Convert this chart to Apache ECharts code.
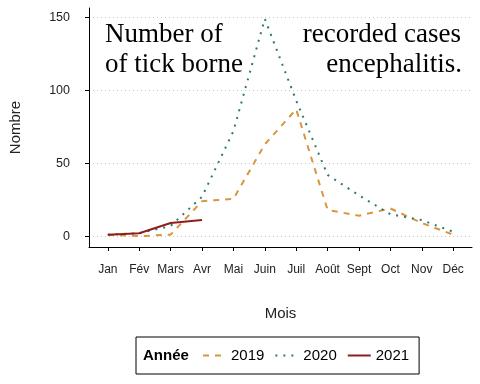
<!DOCTYPE html>
<html><head><meta charset="utf-8">
<script src="https://cdn.jsdelivr.net/npm/echarts@6/dist/echarts.min.js"></script>
<style>html,body{margin:0;padding:0;background:#fff}#c{width:480px;height:384px}</style>
</head><body><div id="c"></div>
<script>
var months = ['Jan','Fév','Mars','Avr','Mai','Juin','Juil','Août','Sept','Oct','Nov','Déc'];
var years = ['2019','2020','2021'];
var cases2019 = [1, 0, 1, 24, 25.5, 63, 87, 18, 14, 19, 9, 1];
var cases2020 = [1, 2, 7, 27, 72, 149, 93, 42, 28, 15, 11, 3];
var cases2021 = [1, 2, 9, 11];
var yTicks = [0, 50, 100, 150];

function pairs(arr){ return arr.map(function(v,i){ return [i, v]; }); }
var chart = echarts.init(document.getElementById('c'), null, {renderer:'canvas'});
var colors = ['#D8963F', '#2E7A6E', '#8E1E1E'];
var monthIdx = months.map(function(m,i){return i;});
chart.setOption({
  animation: false,
  color: colors,
  grid: {left: 89, right: 8, top: 8, bottom: 137},
  xAxis: {
    type: 'value', min: -0.6, max: 11.6,
    name: 'Mois', nameLocation: 'middle', nameGap: 59,
    nameTextStyle: {fontFamily: 'Liberation Sans', fontSize: 15, color: '#222'},
    axisLine: {show: true, onZero: false, lineStyle: {color: '#000', width: 1}},
    axisTick: {show: true, length: 4, lineStyle: {color: '#000'}, customValues: monthIdx},
    axisLabel: {customValues: monthIdx, margin: 17, fontFamily: 'Liberation Sans', fontSize: 12, color: '#222',
      formatter: function(v){ return months[Math.round(v)]; }},
    splitLine: {show: false}
  },
  yAxis: {
    type: 'value', min: -7.45, max: 156.45,
    name: 'Nombre', nameLocation: 'middle', nameGap: 66, nameRotate: 90,
    nameTextStyle: {fontFamily: 'Liberation Sans', fontSize: 15, color: '#222'},
    axisLine: {show: true, onZero: false, lineStyle: {color: '#000', width: 1}},
    axisTick: {show: true, length: 4, lineStyle: {color: '#000'}, customValues: yTicks},
    axisLabel: {customValues: yTicks, margin: 19, fontFamily: 'Liberation Sans', fontSize: 12.5, color: '#222'},
    splitLine: {show: true, lineStyle: {color: '#c8c8c8', type: [1, 3], width: 1}}
  },
  legend: {
    left: 136, top: 337, width: 290, height: 39,
    padding: [11, 10, 11, 66],
    borderColor: '#000', borderWidth: 1,
    itemWidth: 23, itemHeight: 14, itemGap: 10,
    itemStyle: {opacity: 0},
    textStyle: {fontFamily: 'Liberation Sans', fontSize: 15, color: '#000'},
    data: years
  },
  graphic: [
    {type: 'text', left: 143, top: 348, style: {text: 'Année', font: 'bold 15px "Liberation Sans"', fill: '#000'}},
    {type: 'text', left: 105, top: 21, style: {text: 'Number of', font: '27px "Liberation Serif"', fill: '#000'}},
    {type: 'text', left: 105, top: 51, style: {text: 'of tick borne', font: '27px "Liberation Serif"', fill: '#000'}},
    {type: 'text', right: 19, top: 21, style: {text: 'recorded cases', font: '27px "Liberation Serif"', fill: '#000'}},
    {type: 'text', right: 18, top: 51, style: {text: 'encephalitis.', font: '27px "Liberation Serif"', fill: '#000'}}
  ],
  series: [
    {name: years[0], type: 'line', data: pairs(cases2019), symbol: 'none',
     lineStyle: {width: 2, type: [6, 6], color: colors[0]}},
    {name: years[1], type: 'line', data: pairs(cases2020), symbol: 'none',
     lineStyle: {width: 2, type: [2, 6], color: colors[1]}},
    {name: years[2], type: 'line', data: pairs(cases2021), symbol: 'none',
     lineStyle: {width: 2, color: colors[2]}}
  ]
});
</script></body></html>
